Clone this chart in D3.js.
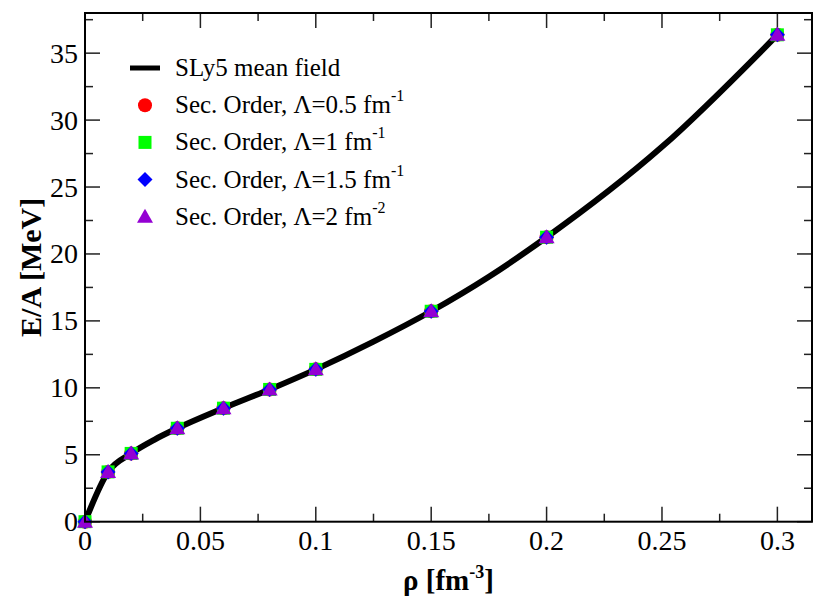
<!DOCTYPE html>
<html>
<head>
<meta charset="utf-8">
<script src="https://cdn.jsdelivr.net/npm/d3@7"></script>
<style>
  body { margin: 0; background: #fff; }
</style>
</head>
<body>
<svg id="chart" width="813" height="600"></svg>
<script>
// density points (fm^-3) where the second order results were computed
const rho = [0, 0.01, 0.02, 0.04, 0.06, 0.08, 0.1, 0.15, 0.2, 0.3];
const ea05 = [0, 3.72, 5.1, 6.98, 8.48, 9.88, 11.38, 15.72, 21.25, 36.37];
const ea1  = [0, 3.72, 5.1, 6.98, 8.48, 9.88, 11.38, 15.72, 21.25, 36.37];
const ea15 = [0, 3.72, 5.1, 6.98, 8.48, 9.88, 11.38, 15.72, 21.25, 36.37];
const ea2  = [0, 3.72, 5.1, 6.98, 8.48, 9.88, 11.38, 15.72, 21.25, 36.37];

// mean field curve
const mfRho = [0, 0.01, 0.02, 0.03, 0.04, 0.06, 0.08, 0.1, 0.125, 0.15, 0.175, 0.2, 0.25, 0.3];
const mfEA  = [0, 3.72, 5.1, 6.12, 6.98, 8.48, 9.88, 11.38, 13.45, 15.72, 18.3, 21.25, 28.0, 36.37];

const xTicks = [0, 0.05, 0.1, 0.15, 0.2, 0.25, 0.3];
const yTicks = [0, 5, 10, 15, 20, 25, 30, 35];

const series = [
  { label: "Sec. Order, \u039B=0.5 fm", sup: "-1", color: "#ff0000", shape: "circle", values: ea05 },
  { label: "Sec. Order, \u039B=1 fm",   sup: "-1", color: "#00ff00", shape: "square", values: ea1 },
  { label: "Sec. Order, \u039B=1.5 fm", sup: "-1", color: "#0000ff", shape: "diamond", values: ea15 },
  { label: "Sec. Order, \u039B=2 fm",   sup: "-2", color: "#9400d3", shape: "triangle", values: ea2 }
];

const serif = '"Liberation Serif", "DejaVu Serif", serif';
const svg = d3.select('#chart').attr('font-family', serif);
const pL = 85, pR = 812, pT = 13, pB = 521.7;

const x = d3.scaleLinear().domain([0, 0.315]).range([pL, pR]);
const y = d3.scaleLinear().domain([0, 38]).range([pB, pT]);

// ticks, pointing inward on all four sides
const xMinor = d3.range(0, 0.3151, 0.025);
const yMinor = d3.range(0, 38.01, 2.5);
const tickG = svg.append('g').attr('stroke', '#222').attr('stroke-width', 1.5);
xMinor.forEach(v => {
  const major = xTicks.some(t => Math.abs(t - v) < 1e-9);
  const len = major ? 15 : 8;
  tickG.append('line').attr('x1', x(v)).attr('x2', x(v)).attr('y1', pB).attr('y2', pB - len);
  tickG.append('line').attr('x1', x(v)).attr('x2', x(v)).attr('y1', pT).attr('y2', pT + len);
});
yMinor.forEach(v => {
  const major = yTicks.some(t => Math.abs(t - v) < 1e-9);
  const len = major ? 15 : 8;
  tickG.append('line').attr('y1', y(v)).attr('y2', y(v)).attr('x1', pL).attr('x2', pL + len);
  tickG.append('line').attr('y1', y(v)).attr('y2', y(v)).attr('x1', pR).attr('x2', pR - len);
});

// tick labels
svg.append('g').selectAll('text')
  .data(xTicks)
  .join('text')
  .attr('x', d => x(d))
  .attr('y', 550)
  .attr('text-anchor', 'middle')
  .attr('font-family', serif)
  .attr('font-size', '28px')
  .text(d => d3.format('~g')(d));

svg.append('g').selectAll('text')
  .data(yTicks)
  .join('text')
  .attr('x', 78)
  .attr('y', d => y(d) + 9.5)
  .attr('text-anchor', 'end')
  .attr('font-family', serif)
  .attr('font-size', '28px')
  .text(d => d);

// axis titles
const xt = svg.append('text')
  .attr('x', (pL + pR) / 2)
  .attr('y', 590)
  .attr('text-anchor', 'middle')
  .attr('font-family', serif)
  .attr('font-size', '29px')
  .attr('font-weight', 'bold');
xt.append('tspan').text('\u03C1 [fm');
xt.append('tspan').attr('font-size', '18px').attr('dy', -12).text('-3');
xt.append('tspan').attr('dy', 12).text(']');

svg.append('text')
  .attr('transform', `translate(41,${(pT + pB) / 2}) rotate(-90)`)
  .attr('text-anchor', 'middle')
  .attr('font-family', serif)
  .attr('font-size', '30px')
  .attr('font-weight', 'bold')
  .text('E/A [MeV]');

// mean field line
const line = d3.line()
  .x((d, i) => x(mfRho[i]))
  .y(d => y(d))
  .curve(d3.curveMonotoneX);

svg.append('path')
  .datum(mfEA)
  .attr('d', line)
  .attr('fill', 'none')
  .attr('stroke', '#000')
  .attr('stroke-width', 6)
  .attr('stroke-linejoin', 'round');

// marker shapes
const drawMarker = (g, shape, color, cx, cy) => {
  if (shape === 'circle') {
    g.append('circle').attr('cx', cx).attr('cy', cy).attr('r', 7).attr('fill', color);
  } else if (shape === 'square') {
    g.append('rect').attr('x', cx - 6.5).attr('y', cy - 6.5).attr('width', 13).attr('height', 13).attr('fill', color);
  } else if (shape === 'diamond') {
    g.append('path').attr('d', `M${cx},${cy - 7.5}L${cx + 7.5},${cy}L${cx},${cy + 7.5}L${cx - 7.5},${cy}Z`).attr('fill', color);
  } else {
    g.append('path').attr('d', `M${cx},${cy - 8}L${cx + 8},${cy + 6}L${cx - 8},${cy + 6}Z`).attr('fill', color);
  }
};

const marks = svg.append('g');
series.forEach(s => {
  s.values.forEach((v, i) => drawMarker(marks, s.shape, s.color, x(rho[i]), y(v)));
});

// frame
svg.append('rect')
  .attr('x', pL).attr('y', pT)
  .attr('width', pR - pL).attr('height', pB - pT)
  .attr('fill', 'none')
  .attr('stroke', '#000')
  .attr('stroke-width', 2);

// legend
const legend = svg.append('g');
const rowY = 68, rowStep = 37.2;
legend.append('line')
  .attr('x1', 130).attr('x2', 160)
  .attr('y1', rowY).attr('y2', rowY)
  .attr('stroke', '#000').attr('stroke-width', 5);
legend.append('text')
  .attr('x', 175).attr('y', rowY + 8)
  .attr('font-family', serif)
  .attr('font-size', '25px')
  .text('SLy5 mean field');

series.forEach((s, i) => {
  const ry = rowY + rowStep * (i + 1);
  drawMarker(legend, s.shape, s.color, 145, ry);
  const t = legend.append('text')
    .attr('x', 175).attr('y', ry + 8)
    .attr('font-family', serif)
    .attr('font-size', '25px');
  t.append('tspan').text(s.label);
  t.append('tspan').attr('font-size', '16px').attr('dy', -12).text(s.sup);
});
</script>
</body>
</html>
